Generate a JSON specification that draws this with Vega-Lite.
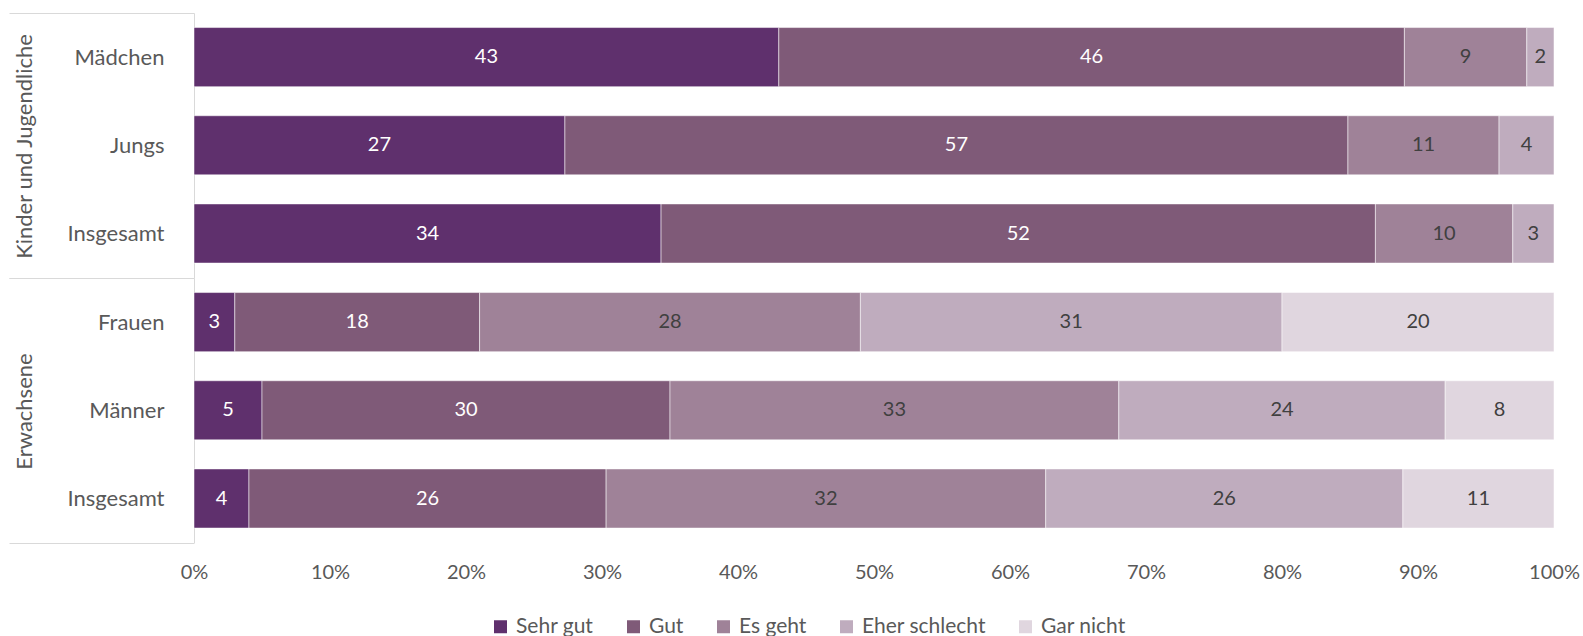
{
  "$schema": "https://vega.github.io/schema/vega-lite/v6.json",
  "padding": {"left": 8, "top": 2, "right": 30, "bottom": 0},
  "spacing": 0,
  "bounds": "flush",
  "config": {
    "font": "Lato",
    "view": {"stroke": null},
    "concat": {"spacing": 0}
  },
  "data": {
    "values": [
      {"group": "Kinder und Jugendliche", "cat": "Mädchen", "resp": "Sehr gut", "k": 1, "val": 43},
      {"group": "Kinder und Jugendliche", "cat": "Mädchen", "resp": "Gut", "k": 2, "val": 46},
      {"group": "Kinder und Jugendliche", "cat": "Mädchen", "resp": "Es geht", "k": 3, "val": 9},
      {"group": "Kinder und Jugendliche", "cat": "Mädchen", "resp": "Eher schlecht", "k": 4, "val": 2},
      {"group": "Kinder und Jugendliche", "cat": "Jungs", "resp": "Sehr gut", "k": 1, "val": 27},
      {"group": "Kinder und Jugendliche", "cat": "Jungs", "resp": "Gut", "k": 2, "val": 57},
      {"group": "Kinder und Jugendliche", "cat": "Jungs", "resp": "Es geht", "k": 3, "val": 11},
      {"group": "Kinder und Jugendliche", "cat": "Jungs", "resp": "Eher schlecht", "k": 4, "val": 4},
      {"group": "Kinder und Jugendliche", "cat": "Insgesamt", "resp": "Sehr gut", "k": 1, "val": 34},
      {"group": "Kinder und Jugendliche", "cat": "Insgesamt", "resp": "Gut", "k": 2, "val": 52},
      {"group": "Kinder und Jugendliche", "cat": "Insgesamt", "resp": "Es geht", "k": 3, "val": 10},
      {"group": "Kinder und Jugendliche", "cat": "Insgesamt", "resp": "Eher schlecht", "k": 4, "val": 3},
      {"group": "Erwachsene", "cat": "Frauen", "resp": "Sehr gut", "k": 1, "val": 3},
      {"group": "Erwachsene", "cat": "Frauen", "resp": "Gut", "k": 2, "val": 18},
      {"group": "Erwachsene", "cat": "Frauen", "resp": "Es geht", "k": 3, "val": 28},
      {"group": "Erwachsene", "cat": "Frauen", "resp": "Eher schlecht", "k": 4, "val": 31},
      {"group": "Erwachsene", "cat": "Frauen", "resp": "Gar nicht", "k": 5, "val": 20},
      {"group": "Erwachsene", "cat": "Männer", "resp": "Sehr gut", "k": 1, "val": 5},
      {"group": "Erwachsene", "cat": "Männer", "resp": "Gut", "k": 2, "val": 30},
      {"group": "Erwachsene", "cat": "Männer", "resp": "Es geht", "k": 3, "val": 33},
      {"group": "Erwachsene", "cat": "Männer", "resp": "Eher schlecht", "k": 4, "val": 24},
      {"group": "Erwachsene", "cat": "Männer", "resp": "Gar nicht", "k": 5, "val": 8},
      {"group": "Erwachsene", "cat": "Insgesamt", "resp": "Sehr gut", "k": 1, "val": 4},
      {"group": "Erwachsene", "cat": "Insgesamt", "resp": "Gut", "k": 2, "val": 26},
      {"group": "Erwachsene", "cat": "Insgesamt", "resp": "Es geht", "k": 3, "val": 32},
      {"group": "Erwachsene", "cat": "Insgesamt", "resp": "Eher schlecht", "k": 4, "val": 26},
      {"group": "Erwachsene", "cat": "Insgesamt", "resp": "Gar nicht", "k": 5, "val": 11}
    ]
  },
  "resolve": {"scale": {"y": "independent"}},
  "vconcat": [
    {
      "width": 1360,
      "height": 264.6,
      "transform": [{"filter": "datum.group === 'Kinder und Jugendliche'"}],
      "encoding": {
        "y": {
          "field": "cat", "type": "nominal",
          "sort": ["Mädchen", "Jungs", "Insgesamt"],
          "scale": {"paddingInner": 0, "paddingOuter": 0},
          "axis": {
            "title": "Kinder und Jugendliche",
            "titleAngle": -90, "titleX": -158, "titleY": 133,
            "titleAlign": "center", "titleBaseline": "bottom",
            "titleFontSize": 22, "titleFontWeight": "normal", "titleColor": "#595959",
            "labelFontSize": 22, "labelColor": "#595959", "labelPadding": -155,
            "tickSize": 185, "tickBand": "extent",
            "tickColor": {"condition": {"test": "datum.value == null || datum.value === 'Insgesamt'", "value": "#d9d9d9"}, "value": "transparent"},
            "domainColor": "#d9d9d9", "grid": false
          }
        },
        "x": {"field": "val", "type": "quantitative", "stack": "normalize", "axis": null}
      },
      "layer": [
        {
          "mark": {"type": "bar", "height": {"band": 0.67}, "stroke": "white", "strokeWidth": 1, "strokeOpacity": 0.5},
          "encoding": {
            "color": {
              "field": "resp", "type": "nominal",
              "scale": {"domain": ["Sehr gut", "Gut", "Es geht", "Eher schlecht", "Gar nicht"], "range": ["#5f306d", "#7f5a78", "#9f8298", "#bfacbe", "#e0d6df"]},
              "legend": {
                "orient": "none", "legendX": 296, "legendY": 603, "direction": "horizontal", "title": null,
                "symbolType": "square", "symbolSize": 169, "symbolStrokeWidth": 0,
                "labelFontSize": 21, "labelColor": "#595959", "columnPadding": 29, "labelOffset": 5
              }
            },
            "order": {"field": "k"}
          }
        },
        {
          "mark": {"type": "text", "fontSize": 20},
          "encoding": {
            "x": {"field": "val", "type": "quantitative", "stack": "normalize", "bandPosition": 0.5},
            "detail": {"field": "resp"},
            "order": {"field": "k"},
            "text": {"field": "val"},
            "color": {"condition": {"test": "datum.k <= 2", "value": "white"}, "value": "#404040"}
          }
        }
      ]
    },
    {
      "width": 1360,
      "height": 264.6,
      "transform": [{"filter": "datum.group === 'Erwachsene'"}],
      "encoding": {
        "y": {
          "field": "cat", "type": "nominal",
          "sort": ["Frauen", "Männer", "Insgesamt"],
          "scale": {"paddingInner": 0, "paddingOuter": 0},
          "axis": {
            "title": "Erwachsene",
            "titleAngle": -90, "titleX": -158, "titleY": 133,
            "titleAlign": "center", "titleBaseline": "bottom",
            "titleFontSize": 22, "titleFontWeight": "normal", "titleColor": "#595959",
            "labelFontSize": 22, "labelColor": "#595959", "labelPadding": -155,
            "tickSize": 185, "tickBand": "extent",
            "tickColor": {"condition": {"test": "datum.value == null || datum.value === 'Insgesamt'", "value": "#d9d9d9"}, "value": "transparent"},
            "domainColor": "#d9d9d9", "grid": false
          }
        },
        "x": {
          "field": "val", "type": "quantitative", "stack": "normalize",
          "axis": {
            "format": "%", "values": [0, 0.1, 0.2, 0.3, 0.4, 0.5, 0.6, 0.7, 0.8, 0.9, 1],
            "grid": false, "domain": false, "ticks": false, "title": null,
            "labelFontSize": 20, "labelColor": "#595959", "labelPadding": 20, "labelFlush": false
          }
        }
      },
      "layer": [
        {
          "mark": {"type": "bar", "height": {"band": 0.67}, "stroke": "white", "strokeWidth": 1, "strokeOpacity": 0.5},
          "encoding": {
            "color": {"field": "resp", "type": "nominal"},
            "order": {"field": "k"}
          }
        },
        {
          "mark": {"type": "text", "fontSize": 20},
          "encoding": {
            "x": {"field": "val", "type": "quantitative", "stack": "normalize", "bandPosition": 0.5},
            "detail": {"field": "resp"},
            "order": {"field": "k"},
            "text": {"field": "val"},
            "color": {"condition": {"test": "datum.k <= 2", "value": "white"}, "value": "#404040"}
          }
        }
      ]
    }
  ]
}
